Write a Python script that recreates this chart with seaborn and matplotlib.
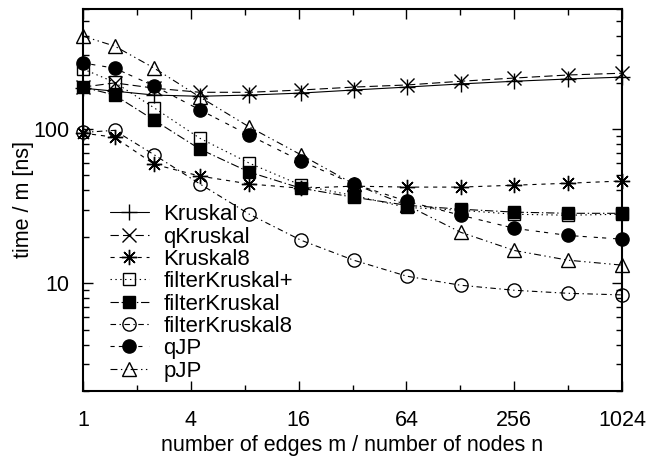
import pandas as pd
import seaborn as sns
import matplotlib.pyplot as plt
from matplotlib.ticker import FixedLocator, LogLocator, NullFormatter, FuncFormatter

sns.set_theme(style="ticks")
plt.rcParams['font.family'] = ['Liberation Sans', 'DejaVu Sans']
plt.rcParams['lines.scale_dashes'] = False
for k in ['axes.edgecolor', 'text.color', 'axes.labelcolor', 'xtick.color', 'ytick.color']:
    plt.rcParams[k] = 'black'

# m/n values (x) and time per edge in ns for each algorithm
ratio = [1, 1.5, 2.5, 4.5, 8.5, 16.5, 32.5, 64.5, 128.5, 256.5, 512.5, 1024.5]
kruskal = [184, 176, 166, 163, 166, 171, 179, 187, 196, 204, 211, 217]
q_kruskal = [187, 199, 184, 173, 173, 179, 187, 193, 204, 214, 224, 230]
kruskal8 = [94, 88.5, 59, 49.5, 44, 41.3, 42.6, 42, 42, 43.2, 44.5, 46]
filter_kruskal_plus = [245, 201, 137, 87, 60, 43.2, 37, 31, 29.7, 28, 27.6, 28]
filter_kruskal = [187, 166, 114, 74, 52.5, 41.3, 36.1, 32, 30.2, 28.9, 28.4, 28.4]
filter_kruskal8 = [95, 98, 68, 44, 28, 19, 14.1, 11.1, 9.7, 9.0, 8.6, 8.4]
q_jp = [268, 248, 190, 133, 91, 62, 44, 34, 27.6, 22.7, 20.4, 19.3]
p_jp = [400, 345, 248, 161, 103, 68, 44, 32, 21.4, 16.3, 14.1, 13.1]

names = ['Kruskal', 'qKruskal', 'Kruskal8', 'filterKruskal+', 'filterKruskal',
         'filterKruskal8', 'qJP', 'pJP']
values = [kruskal, q_kruskal, kruskal8, filter_kruskal_plus, filter_kruskal,
          filter_kruskal8, q_jp, p_jp]

# marker, marker size, filled?, dash pattern
styles = {
    'Kruskal':        ('+', 11, True, '-'),
    'qKruskal':       ('x', 10, True, (0, (6, 3))),
    'Kruskal8':       ((8, 2, 0), 11, True, (0, (3, 3.5))),
    'filterKruskal+': ('s', 9, False, (0, (1, 2.5))),
    'filterKruskal':  ('s', 9, True, (0, (6, 2, 1, 2))),
    'filterKruskal8': ('o', 9.5, False, (0, (4, 2.5, 1, 2.5))),
    'qJP':            ('o', 9.5, True, (0, (3, 3, 3, 5))),
    'pJP':            ('^', 10, False, (0, (5, 2.5, 1, 2.5, 1, 2.5))),
}

fs = 15.5

fig = plt.figure(figsize=(6.5, 4.58), dpi=100)
ax = fig.add_axes([83 / 650, 1 - 391 / 458, (622 - 83) / 650, (391 - 9) / 458])

for name, vals in zip(names, values):
    marker, ms, filled, ls = styles[name]
    df = pd.DataFrame({'ratio': ratio, 'time': vals})
    sns.lineplot(data=df, x='ratio', y='time', ax=ax, color='black', lw=0.8,
                 marker=marker, ms=ms, mec='black', mew=1.0,
                 mfc='black' if filled else 'none', linestyle=ls,
                 label=name, clip_on=False)

ax.set_xscale('log', base=2)
ax.set_yscale('log')
ax.set_xlim(1, 1024)
ax.set_ylim(2, 600)

ax.xaxis.set_major_locator(FixedLocator([1, 4, 16, 64, 256, 1024]))
ax.xaxis.set_minor_locator(FixedLocator([2, 8, 32, 128, 512]))
ax.xaxis.set_major_formatter(FuncFormatter(lambda v, p: f"{v:g}"))
ax.xaxis.set_minor_formatter(NullFormatter())
ax.yaxis.set_major_locator(FixedLocator([10, 100]))
ax.yaxis.set_minor_locator(LogLocator(base=10, subs=range(2, 10)))
ax.yaxis.set_major_formatter(FuncFormatter(lambda v, p: f"{v:g}"))
ax.yaxis.set_minor_formatter(NullFormatter())

ax.tick_params(which='both', direction='in', top=True, right=True, width=1)
ax.tick_params(which='major', length=7.5)
ax.tick_params(which='minor', length=4)
ax.tick_params(axis='x', which='major', pad=14, labelsize=fs)
ax.tick_params(axis='y', which='major', pad=9.5, labelsize=fs)
for s in ax.spines.values():
    s.set_linewidth(1.5)

ax.set_xlabel('number of edges m / number of nodes n', fontsize=fs)
ax.set_ylabel('time / m [ns]', fontsize=fs)
ax.xaxis.set_label_coords(0.5, -0.115)
ax.yaxis.set_label_coords(-0.091, 0.5)

ax.legend(loc='upper left', bbox_to_anchor=(0.05, 0.489), frameon=False,
          fontsize=16, handlelength=1.75, handletextpad=0.65, labelspacing=0.06,
          borderpad=0, borderaxespad=0)

plt.savefig('out.png', dpi=100)
